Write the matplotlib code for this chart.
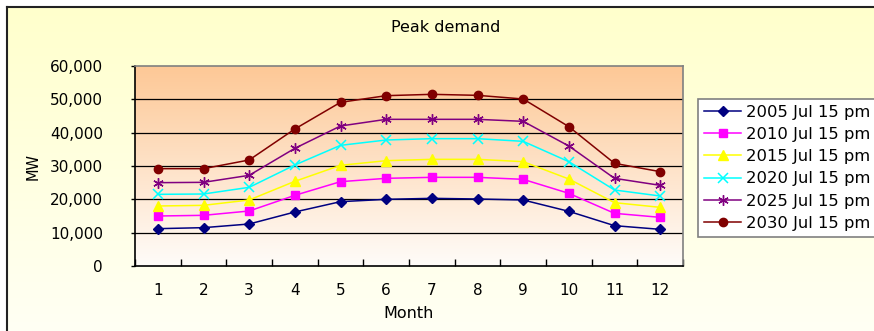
"""Peak demand by month, 2005-2030 projections (Excel-style chart)."""
import numpy as np
import matplotlib.pyplot as plt
from matplotlib.colors import LinearSegmentedColormap

# ── data ───────────────────────────────────────────────────────────
months = [1, 2, 3, 4, 5, 6, 7, 8, 9, 10, 11, 12]

d2005 = [11200, 11500, 12600, 16200, 19300, 20000, 20300, 20100, 19800, 16400, 12100, 11000]
d2010 = [15000, 15200, 16500, 21200, 25300, 26300, 26600, 26600, 26000, 21800, 15800, 14600]
d2015 = [18000, 18200, 19800, 25400, 30200, 31600, 32000, 32000, 31300, 26100, 19000, 17600]
d2020 = [21500, 21600, 23600, 30300, 36200, 37800, 38200, 38200, 37400, 31300, 22800, 21000]
d2025 = [25000, 25100, 27200, 35300, 42000, 44000, 44000, 44000, 43400, 36000, 26300, 24200]
d2030 = [29200, 29200, 31800, 41100, 49100, 51100, 51500, 51200, 50100, 41800, 30800, 28300]

labels = ['2005 Jul 15 pm', '2010 Jul 15 pm', '2015 Jul 15 pm',
          '2020 Jul 15 pm', '2025 Jul 15 pm', '2030 Jul 15 pm']

# ── styles ─────────────────────────────────────────────────────────
styles = [
    dict(color='#000080', marker='D', ms=5.5),
    dict(color='#FF00FF', marker='s', ms=6),
    dict(color='#FFFF00', marker='^', ms=7),
    dict(color='#00FFFF', marker='x', ms=6.5, mew=1.1),
    dict(color='#800080', marker=(6, 2, 0), ms=7.5, mew=1.0),
    dict(color='#800000', marker='o', ms=6),
]

W, H = 874, 331
fig = plt.figure(figsize=(W / 100, H / 100), dpi=100)
fig.patch.set_facecolor('white')

# ── chart-area background (pale yellow gradient + border) ──────────
bg = fig.add_axes([0, 0, 1, 1])
bg.set_xlim(0, W)
bg.set_ylim(H, 0)
bg.axis('off')
ycmap = LinearSegmentedColormap.from_list('ybg', ['#FFFFCC', '#FFFFF4'])
bg.imshow(np.linspace(0, 1, 256).reshape(-1, 1), cmap=ycmap,
          extent=(7, W, H, 7), aspect='auto', zorder=0)
bg.plot([7, 7], [H, 7], color='#222222', lw=1.5, zorder=1)
bg.plot([7, W], [7, 7], color='#222222', lw=1.5, zorder=1)

# ── plot area ──────────────────────────────────────────────────────
left, right, top, bottom = 135, 683, 66, 266
ax = fig.add_axes([left / W, (H - bottom) / H, (right - left) / W, (bottom - top) / H])
ax.patch.set_alpha(0)
ocmap = LinearSegmentedColormap.from_list('obg', ['#FDC896', '#FFFCF9'])
ax.imshow(np.linspace(0, 1, 256).reshape(-1, 1), cmap=ocmap,
          extent=(0.5, 12.5, 0, 60000), aspect='auto', zorder=0)

for lvl in [10000, 20000, 30000, 40000, 50000]:
    ax.axhline(lvl, color='black', lw=0.9, zorder=1)

for vals, lab, st in zip([d2005, d2010, d2015, d2020, d2025, d2030], labels, styles):
    ax.plot(months, vals, color=st['color'], lw=1.1, marker=st['marker'],
            ms=st['ms'], mfc=st['color'], mec=st['color'],
            mew=st.get('mew', 1.0), label=lab, zorder=3)

ax.set_xlim(0.5, 12.5)
ax.set_ylim(0, 60000)
ax.set_yticks(np.arange(0, 60001, 10000))
ax.set_yticklabels([f'{v:,}' for v in range(0, 60001, 10000)])
ax.set_xticks(months)
ax.set_xticks(np.arange(0.5, 12.6, 1), minor=True)
ax.tick_params(axis='x', which='major', length=0, pad=12, labelsize=11)
ax.tick_params(axis='x', which='minor', direction='in', length=5, width=1, color='black')
ax.tick_params(axis='y', length=3, width=1, pad=20, labelsize=11)

for s in ['left', 'bottom']:
    ax.spines[s].set_color('black')
    ax.spines[s].set_linewidth(1.2)
for s in ['top', 'right']:
    ax.spines[s].set_color('#808080')
    ax.spines[s].set_linewidth(1.2)

# ── text ───────────────────────────────────────────────────────────
fig.text(446 / W, 1 - 28 / H, 'Peak demand', ha='center', va='center', fontsize=11.5)
fig.text(409 / W, 1 - 313 / H, 'Month', ha='center', va='center', fontsize=11.5)
fig.text(33 / W, 1 - 166 / H, 'MW', ha='center', va='center', rotation=90, fontsize=10.5)

leg = ax.legend(loc='upper left', bbox_to_anchor=(698 / W, 1 - 99 / H),
                bbox_transform=fig.transFigure, borderaxespad=0,
                fontsize=11.8, frameon=True, fancybox=False, framealpha=1,
                edgecolor='#808080', borderpad=0.35, labelspacing=0.44,
                handlelength=2.3, handletextpad=0.3)
leg.get_frame().set_linewidth(1.2)

fig.savefig('out.png', dpi=100)
